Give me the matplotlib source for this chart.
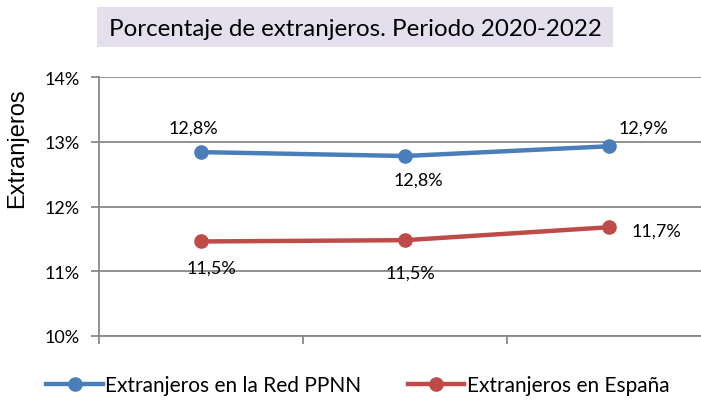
import matplotlib.pyplot as plt
from matplotlib.patches import Rectangle
from matplotlib.ticker import FuncFormatter

years = ["2020", "2021", "2022"]
red_ppnn = [12.84, 12.78, 12.93]
espana = [11.46, 11.48, 11.68]
series_names = ["Extranjeros en la Red PPNN", "Extranjeros en España"]
title = "Porcentaje de extranjeros. Periodo 2020-2022"

BLUE = "#4A7EBB"
RED = "#BE4B48"
GRID = "#888888"
FONT = "Lato"

fig = plt.figure(figsize=(7.01, 4.02), dpi=100)
ax = fig.add_axes([99 / 701, 65 / 402, 612 / 701, 259 / 402])

x = [i + 0.5 for i in range(len(years))]
ax.plot(x, red_ppnn, color=BLUE, lw=3.2, marker="o", ms=9.5, label=series_names[0])
ax.plot(x, espana, color=RED, lw=3.2, marker="o", ms=9.5, label=series_names[1])

def lab(v):
    return f"{v:.1f}".replace(".", ",") + "%"

# label offsets in pixels, one per point
blue_off = [(-8, 24), (13, -24), (34, 19)]
red_off = [(10, -26), (5, -32), (47, -3)]
for xi, v, o in zip(x, red_ppnn, blue_off):
    ax.annotate(lab(v), (xi, v), xytext=o, textcoords="offset pixels",
                ha="center", va="center", fontsize=13, family=FONT)
for xi, v, o in zip(x, espana, red_off):
    ax.annotate(lab(v), (xi, v), xytext=o, textcoords="offset pixels",
                ha="center", va="center", fontsize=13, family=FONT)

ax.set_xlim(0, 3)
ax.set_ylim(10, 14)
ax.set_yticks([10, 11, 12, 13, 14])
ax.yaxis.set_major_formatter(FuncFormatter(lambda v, p: f"{v:.0f}%"))
ax.set_xticks([0, 1, 2, 3])
ax.set_xticklabels([])
ax.grid(axis="y", color=GRID, lw=1.3)
ax.set_axisbelow(True)
for s in ["top", "right"]:
    ax.spines[s].set_visible(False)
ax.spines["left"].set_color(GRID)
ax.spines["left"].set_linewidth(1.3)
ax.spines["bottom"].set_color(GRID)
ax.spines["bottom"].set_linewidth(1.3)
ax.tick_params(axis="both", color=GRID, width=1.3, length=6)
ax.tick_params(axis="y", labelsize=13, pad=8)
for t in ax.get_yticklabels():
    t.set_family(FONT)

ax.set_ylabel("Extranjeros", fontsize=17, family="Liberation Sans")
ax.yaxis.set_label_coords(-71 / 612, 0.73)

fig.patches.append(Rectangle((97 / 701, 354 / 402), 516 / 701, 40 / 402,
                             transform=fig.transFigure, facecolor="#E4DFEC",
                             edgecolor="none"))
fig.text(355 / 701, 373 / 402, title, ha="center", va="center", fontsize=17.4, family=FONT)

fig.legend(loc="center", bbox_to_anchor=(358 / 701, 16 / 402), ncol=2, frameon=False,
           prop={"family": FONT, "size": 15}, handlelength=2.7, columnspacing=2.25,
           handletextpad=0.12, borderpad=0, borderaxespad=0)

fig.savefig("out.png", dpi=100)
